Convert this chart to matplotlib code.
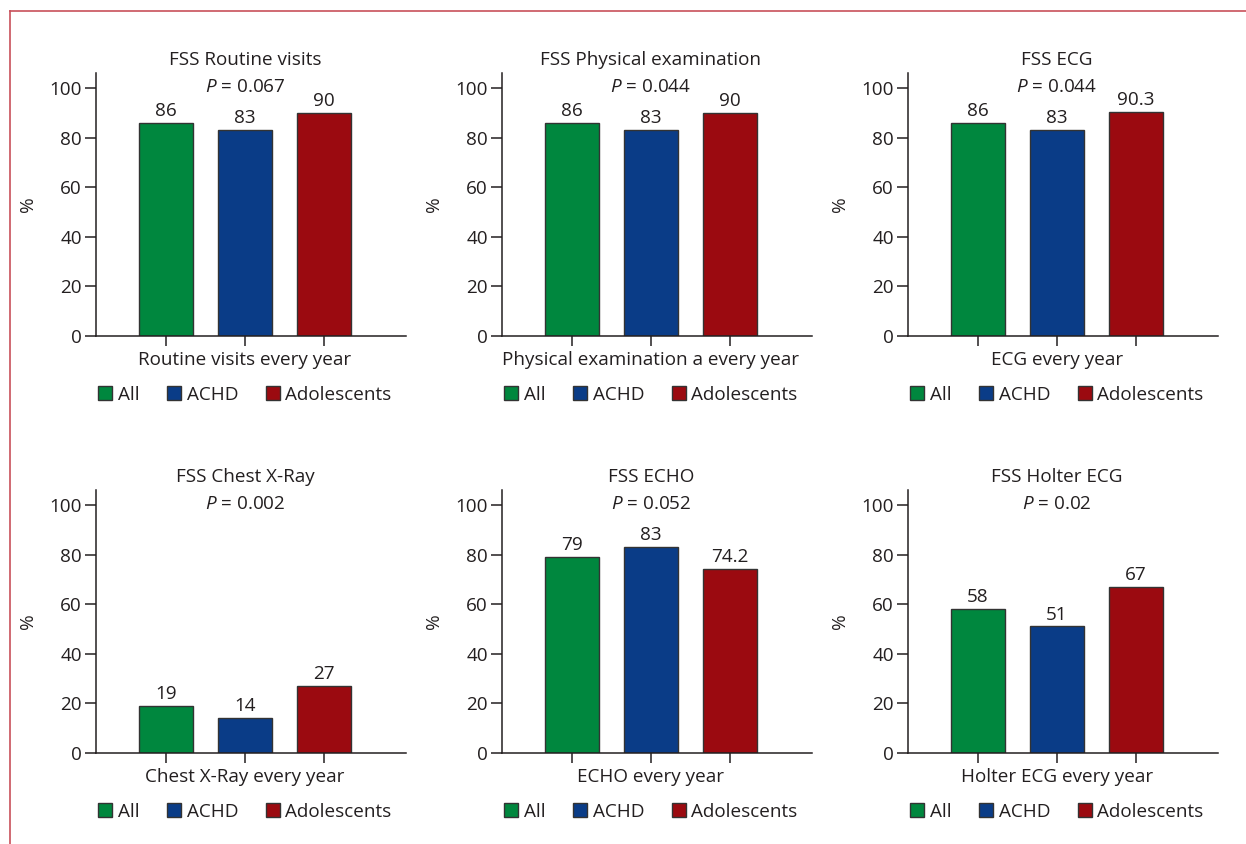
import matplotlib
matplotlib.use("Agg")
import matplotlib.pyplot as plt
import matplotlib.transforms as mtransforms
from matplotlib.lines import Line2D
from matplotlib.patches import Patch

plt.rcParams["font.family"] = ["Open Sans", "DejaVu Sans"]
plt.rcParams["mathtext.fontset"] = "custom"
plt.rcParams["mathtext.it"] = "Open Sans:italic"
plt.rcParams["mathtext.rm"] = "Open Sans"

TEXT = "#231f20"
groups = ["All", "ACHD", "Adolescents"]
colors = ["#00873e", "#0a3c87", "#9b0a10"]

titles = ["FSS Routine visits", "FSS Physical examination", "FSS ECG",
          "FSS Chest X-Ray", "FSS ECHO", "FSS Holter ECG"]
p_values = ["0.067", "0.044", "0.044", "0.002", "0.052", "0.02"]
xlabels = ["Routine visits every year", "Physical examination a every year",
           "ECG every year", "Chest X-Ray every year", "ECHO every year",
           "Holter ECG every year"]

routine = [86, 83, 90]
physical = [86, 83, 90]
ecg = [86, 83, 90.3]
xray = [19, 14, 27]
echo = [79, 83, 74.2]
holter = [58, 51, 67]
values = [routine, physical, ecg, xray, echo, holter]

W, H = 1246, 844
fig = plt.figure(figsize=(W / 100, H / 100), dpi=100)

fs = 13.6
for i in range(6):
    row, col = divmod(i, 3)
    left = 96 + 406 * col
    bottom = 336 + 417 * row
    ax = fig.add_axes([left / W, 1 - bottom / H, 310 / W, 263 / H])

    x = range(3)
    ax.bar(x, values[i], width=0.68, color=colors, edgecolor="#333333", linewidth=1.0)
    for xi, v in zip(x, values[i]):
        ax.annotate(f"{v:g}", (xi, v), xytext=(0, 2), textcoords="offset points",
                    ha="center", va="bottom", fontsize=fs, color=TEXT)

    ax.set_xlim(-0.886, 3.04)
    ax.set_ylim(0, 106)
    ax.set_yticks(range(0, 101, 20))
    ax.set_xticks(list(x))
    ax.set_xticklabels([])
    ax.tick_params(axis="y", length=8, width=1.1, pad=2, labelsize=fs, colors=TEXT)
    ax.tick_params(axis="x", length=7, width=1.1, colors=TEXT)
    for s in ["top", "right"]:
        ax.spines[s].set_visible(False)
    for s in ["left", "bottom"]:
        ax.spines[s].set_linewidth(1.1)
        ax.spines[s].set_color(TEXT)

    ax.set_ylabel("%", fontsize=fs, color=TEXT)
    ax.yaxis.set_label_coords(-0.19, 0.5)

    trans = mtransforms.blended_transform_factory(ax.transData, ax.transAxes)
    ax.text(1, 1.049, titles[i], transform=trans, ha="center", va="center",
            fontsize=fs, color=TEXT)
    ax.text(1, 0.947, f"$P$ = {p_values[i]}", transform=trans, ha="center",
            va="center", fontsize=fs, color=TEXT)
    ax.text(1, -0.091, xlabels[i], transform=trans, ha="center", va="center",
            fontsize=fs, color=TEXT)

    handles = [Patch(facecolor=c, edgecolor="#333333", linewidth=1.0) for c in colors]
    ax.legend(handles, groups, loc="center", bbox_to_anchor=(1, -0.224),
              bbox_transform=trans, ncol=3, frameon=False, fontsize=fs,
              handlelength=0.75, handleheight=0.75, handletextpad=0.3,
              columnspacing=1.45, labelcolor=TEXT, borderpad=0)

# thin frame along top and left edges
border = "#c8505a"
fig.add_artist(Line2D([10 / W, 1], [1 - 11 / H, 1 - 11 / H], color=border, lw=1.2))
fig.add_artist(Line2D([10 / W, 10 / W], [0, 1 - 11 / H], color=border, lw=1.2))

fig.savefig("out.png", dpi=100)
